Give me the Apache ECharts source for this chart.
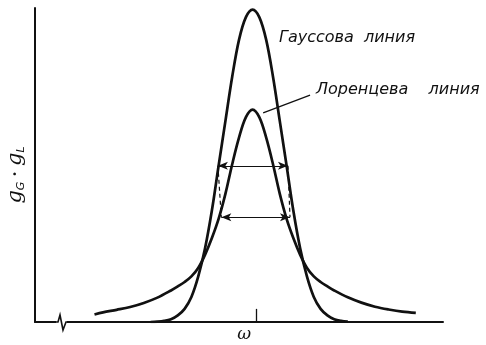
<!DOCTYPE html>
<html>
<head>
<meta charset="utf-8">
<script src="https://cdn.jsdelivr.net/npm/echarts@6/dist/echarts.min.js"></script>
<style>
  html, body { margin: 0; padding: 0; background: #fff; }
  #chart { width: 486px; height: 345px; }
</style>
</head>
<body>
<div id="chart"></div>
<script>
// Frequency offset from line centre, in units of the half-width at half maximum
const gaussX = [-3.0, -2.8, -2.6, -2.4, -2.2, -2.0, -1.8, -1.6, -1.4, -1.2, -1.0, -0.8, -0.6, -0.4, -0.2, 0,
                0.2, 0.4, 0.6, 0.8, 1.0, 1.2, 1.4, 1.6, 1.8, 2.0, 2.2, 2.4, 2.6, 2.8];
// Gaussian profile g_G, peak normalised to 1
const gaussY = [0.0, 0.001, 0.0035, 0.009, 0.021, 0.042, 0.08, 0.145, 0.235, 0.355, 0.5, 0.643, 0.785, 0.903, 0.975, 1.0,
                0.975, 0.903, 0.785, 0.643, 0.5, 0.355, 0.235, 0.145, 0.08, 0.042, 0.021, 0.009, 0.0035, 0.001];

const lorentzX = [-4.65, -4.4, -4.0, -3.6, -3.2, -2.8, -2.4, -2.2, -2.0, -1.8, -1.6, -1.4, -1.2, -1.0, -0.8, -0.6, -0.4, -0.2, 0,
                  0.2, 0.4, 0.6, 0.8, 1.0, 1.2, 1.4, 1.6, 1.8, 2.0, 2.2, 2.4, 2.8, 3.2, 3.6, 4.0, 4.4, 4.8];
// Lorentzian profile g_L with the same width and area
const lorentzY = [0.024, 0.031, 0.039, 0.048, 0.061, 0.078, 0.101, 0.114, 0.128, 0.146, 0.173, 0.215, 0.268, 0.33, 0.41, 0.505, 0.59, 0.655, 0.68,
                  0.655, 0.59, 0.505, 0.41, 0.33, 0.268, 0.215, 0.173, 0.146, 0.128, 0.114, 0.101, 0.079, 0.062, 0.049, 0.04, 0.033, 0.029];

// Full widths at half maximum: [left, right, level]
const widthGauss = [-1.02, 1.04, 0.5];
const widthLorentz = [-0.92, 1.1, 0.335];

// Line centre mark on the frequency axis
const centreMark = [0.1, 0.042];

// Pointer from the Lorentzian to its caption
const lorentzPointer = [[0.31, 0.669], [1.69, 0.726]];

const labels = {
  gauss: 'Гауссова  линия',
  lorentz: 'Лоренцева    линия',
  omega: 'ω'
};

const INK = '#111';

function pairs(xs, ys) { return xs.map((x, i) => [x, ys[i]]); }

const chart = echarts.init(document.getElementById('chart'), null, { renderer: 'canvas' });

const curveStyle = { color: INK, width: 2.7 };

chart.setOption({
  animation: false,
  backgroundColor: '#fff',
  grid: { left: 35, right: 43, top: 8, bottom: 23 },
  xAxis: {
    type: 'value', min: -6.4, max: 5.6,
    axisLine: { show: true, onZero: false, lineStyle: { color: INK, width: 2 } },
    axisTick: { show: false }, axisLabel: { show: false }, splitLine: { show: false }
  },
  yAxis: {
    type: 'value', min: 0, max: 1.005,
    axisLine: { show: true, onZero: false, lineStyle: { color: INK, width: 2 } },
    axisTick: { show: false }, axisLabel: { show: false }, splitLine: { show: false }
  },
  series: [
    {
      name: 'gauss', type: 'line', data: pairs(gaussX, gaussY),
      smooth: 0.35, showSymbol: false, symbol: 'none',
      lineStyle: curveStyle, z: 3
    },
    {
      name: 'lorentz', type: 'line', data: pairs(lorentzX, lorentzY),
      smooth: 0.35, showSymbol: false, symbol: 'none',
      lineStyle: curveStyle, z: 3
    },
    {
      // double-headed width arrows
      name: 'widths', type: 'line', data: [],
      markLine: {
        silent: true, animation: false,
        symbol: ['arrow', 'arrow'], symbolSize: [6, 10],
        label: { show: false },
        lineStyle: { color: INK, width: 1.2, type: 'solid' },
        data: [
          [{ coord: [widthGauss[0], widthGauss[2]] }, { coord: [widthGauss[1], widthGauss[2]] }],
          [{ coord: [widthLorentz[0], widthLorentz[2]] }, { coord: [widthLorentz[1], widthLorentz[2]] }]
        ]
      }
    },
    {
      // dashed guides joining the arrow ends
      name: 'guides', type: 'line', data: [],
      markLine: {
        silent: true, animation: false,
        symbol: ['none', 'none'],
        label: { show: false },
        lineStyle: { color: INK, width: 1.2, type: [4, 3] },
        data: [
          [{ coord: [widthGauss[0], widthGauss[2]] }, { coord: [widthLorentz[0], widthLorentz[2]] }],
          [{ coord: [widthGauss[1], widthGauss[2]] }, { coord: [widthLorentz[1], widthLorentz[2]] }]
        ]
      }
    },
    {
      name: 'marks', type: 'line', data: [],
      markLine: {
        silent: true, animation: false,
        symbol: ['none', 'none'],
        label: { show: false },
        lineStyle: { color: INK, width: 1.3, type: 'solid' },
        data: [
          [{ coord: [centreMark[0], 0] }, { coord: [centreMark[0], centreMark[1]] }],
          [{ coord: lorentzPointer[0] }, { coord: lorentzPointer[1] }]
        ]
      }
    }
  ]
});

// Captions, axis symbols and the break in the frequency axis
const axisY = chart.convertToPixel({ gridIndex: 0 }, [0, 0])[1];
const omegaX = chart.convertToPixel({ gridIndex: 0 }, [-0.25, 0])[0];

chart.setOption({
  graphic: [
    {
      type: 'text', x: 279, y: 38, z: 10,
      style: { text: labels.gauss, font: 'italic 16px "DejaVu Sans"', fill: INK, verticalAlign: 'middle' }
    },
    {
      type: 'text', x: 316, y: 90, z: 10,
      style: { text: labels.lorentz, font: 'italic 16px "DejaVu Sans"', fill: INK, verticalAlign: 'middle' }
    },
    {
      type: 'text', x: omegaX, y: axisY + 13, z: 10,
      style: { text: labels.omega, font: 'italic 17px "DejaVu Serif"', fill: INK, align: 'center', verticalAlign: 'middle' }
    },
    {
      type: 'text', x: 16, y: 175, rotation: Math.PI / 2, z: 10,
      style: {
        text: '{g|g}{s|G}{c| · }{g|g}{s|L}',
        align: 'center', verticalAlign: 'middle', fill: INK,
        rich: {
          g: { font: 'italic 21px "DejaVu Serif"', fill: INK, lineHeight: 26, verticalAlign: 'middle' },
          c: { font: 'bold 15px "DejaVu Serif"', fill: INK, lineHeight: 26, verticalAlign: 'middle' },
          s: { font: 'italic 11px "DejaVu Sans"', fill: INK, lineHeight: 26, verticalAlign: 'bottom', padding: [0, 0, 2, 0] }
        }
      }
    },
    {
      type: 'rect', z: 10,
      shape: { x: 56, y: axisY - 2, width: 11, height: 4 },
      style: { fill: '#fff' }
    },
    {
      type: 'polyline', z: 11,
      shape: { points: [[55, axisY], [58, axisY], [60, axisY - 7], [63, axisY + 8], [66, axisY], [68, axisY]] },
      style: { stroke: INK, lineWidth: 1.6, fill: null }
    }
  ]
});
</script>
</body>
</html>
